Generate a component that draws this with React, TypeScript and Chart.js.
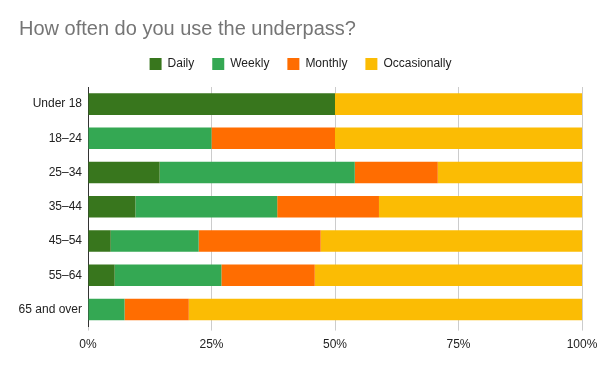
import React, { useEffect, useRef } from "react";
import { Chart, registerables } from "chart.js";

Chart.register(...registerables);

const categories = ["Under 18", "18–24", "25–34", "35–44", "45–54", "55–64", "65 and over"];
const daily = [50, 0, 14.5, 9.6, 4.6, 5.4, 0];
const weekly = [0, 25, 39.5, 28.7, 17.8, 21.6, 7.4];
const monthly = [0, 25, 16.8, 20.6, 24.7, 18.9, 13.0];
const occasionally = [50, 50, 29.2, 41.1, 52.9, 54.1, 79.6];
const xTicks = [0, 25, 50, 75, 100];

const FONT = "'Liberation Sans', Arial, sans-serif";

const legendGap = {
  id: "legendGap",
  afterInit(chart: any) {
    const lg = chart.legend;
    if (!lg || lg.__gapPatched) return;
    const fit = lg.fit.bind(lg);
    lg.fit = function () {
      fit();
      this.height += 7;
    };
    lg.__gapPatched = true;
  },
};

export default function App() {
  const ref = useRef<HTMLCanvasElement | null>(null);
  useEffect(() => {
    document.body.style.margin = "0";
    const ctx = ref.current!;
    const chart = new Chart(ctx, {
      type: "bar",
      data: {
        labels: categories,
        datasets: [
          { label: "Daily", data: daily, backgroundColor: "#38761d" },
          { label: "Weekly", data: weekly, backgroundColor: "#34a853" },
          { label: "Monthly", data: monthly, backgroundColor: "#ff6d01" },
          { label: "Occasionally", data: occasionally, backgroundColor: "#fbbc04" },
        ],
      },
      plugins: [legendGap],
      options: {
        indexAxis: "y",
        animation: false,
        responsive: false,
        maintainAspectRatio: false,
        layout: { autoPadding: false, padding: { left: 19, right: 18, top: 0, bottom: 12 } },
        datasets: { bar: { barPercentage: 0.63, categoryPercentage: 1, borderWidth: 0 } },
        plugins: {
          title: {
            display: true,
            text: "How often do you use the underpass?",
            align: "start",
            color: "#757575",
            font: { family: FONT, size: 20, weight: "normal" },
            padding: { top: 17, bottom: -1 },
          },
          legend: {
            display: true,
            position: "top",
            labels: {
              boxWidth: 12,
              boxHeight: 12,
              color: "#222",
              font: { family: FONT, size: 12 },
              padding: 18,
            },
          },
          tooltip: { enabled: false },
        },
        scales: {
          x: {
            stacked: true,
            min: 0,
            max: 100,
            afterBuildTicks: (s: any) => {
              s.ticks = xTicks.map((v) => ({ value: v }));
            },
            afterFit: (s: any) => {
              s.paddingLeft = 0;
              s.paddingRight = 0;
            },
            ticks: {
              color: "#222",
              font: { family: FONT, size: 12 },
              callback: (v: any) => v + "%",
              padding: 7,
              maxRotation: 0,
            },
            grid: { color: "#cccccc", tickLength: 4, drawTicks: true },
            border: { display: false },
          },
          y: {
            stacked: true,
            afterFit: (s: any) => {
              s.width = 69;
            },
            ticks: {
              color: "#222",
              font: { family: FONT, size: 12 },
              padding: 6,
            },
            grid: { display: false, drawTicks: false },
            border: { display: true, color: "#333333", width: 1 },
          },
        },
      },
    });
    return () => chart.destroy();
  }, []);
  return (
    <div style={{ position: "absolute", left: 0, top: 0, width: 600, height: 371 }}>
      <canvas ref={ref} width={600} height={371} style={{ width: 600, height: 371 }} />
    </div>
  );
}
